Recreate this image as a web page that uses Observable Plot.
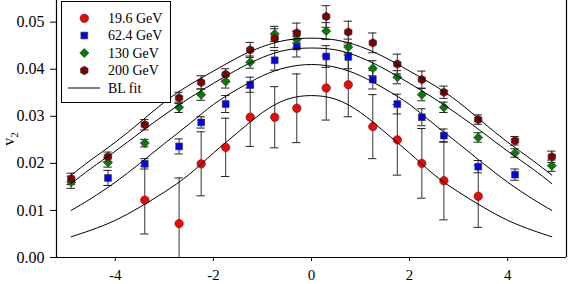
<!DOCTYPE html>
<html>
<head>
<meta charset="utf-8">
<script src="https://cdn.jsdelivr.net/npm/d3@7"></script>
<script src="https://cdn.jsdelivr.net/npm/@observablehq/plot@0.6"></script>
<style>
  html, body { margin: 0; padding: 0; background: #fff; }
  #chart { width: 575px; height: 284px; overflow: hidden; }
</style>
</head>
<body>
<div id="chart"></div>
<script>
// ---- data ----
const etaAll = [-4.9, -4.15, -3.4, -2.7, -2.25, -1.75, -1.25, -0.75, -0.3, 0.3, 0.75, 1.25, 1.75, 2.25, 2.7, 3.4, 4.15, 4.9];
const eta196 = [-3.4, -2.7, -2.25, -1.75, -1.25, -0.75, -0.3, 0.3, 0.75, 1.25, 1.75, 2.25, 2.7, 3.4];
const eta624 = [-4.15, -3.4, -2.7, -2.25, -1.75, -1.25, -0.75, -0.3, 0.3, 0.75, 1.25, 1.75, 2.25, 2.7, 3.4, 4.15];

const v2_196 = [0.0122, 0.0072, 0.0199, 0.0234, 0.0298, 0.0298, 0.0317, 0.0360, 0.0367, 0.0278, 0.0250, 0.0200, 0.0163, 0.0130];
const err196 = [0.0072, 0.0097, 0.0068, 0.0062, 0.0062, 0.0065, 0.0073, 0.0068, 0.0068, 0.0068, 0.0075, 0.0074, 0.0083, 0.0066];

const v2_624 = [0.0169, 0.0199, 0.0236, 0.0287, 0.0326, 0.0367, 0.0419, 0.0448, 0.0427, 0.0426, 0.0378, 0.0326, 0.0298, 0.0259, 0.0193, 0.0176];
const err624 = [0.0016, 0.0011, 0.0016, 0.0012, 0.0018, 0.0016, 0.0021, 0.0022, 0.0023, 0.0025, 0.0020, 0.0021, 0.0018, 0.0014, 0.0013, 0.0012];

const v2_130 = [0.0160, 0.0202, 0.0243, 0.0319, 0.0346, 0.0374, 0.0415, 0.0475, 0.0463, 0.0481, 0.0447, 0.0402, 0.0383, 0.0346, 0.0319, 0.0255, 0.0222, 0.0195];
const err130 = [0.0013, 0.0010, 0.0008, 0.0011, 0.0012, 0.0014, 0.0013, 0.0016, 0.0018, 0.0018, 0.0017, 0.0016, 0.0014, 0.0013, 0.0011, 0.0010, 0.0009, 0.0012];

const v2_200 = [0.0167, 0.0214, 0.0282, 0.0339, 0.0372, 0.0389, 0.0441, 0.0466, 0.0477, 0.0512, 0.0479, 0.0456, 0.0411, 0.0378, 0.0351, 0.0293, 0.0248, 0.0214];
const err200 = [0.0012, 0.0010, 0.0011, 0.0012, 0.0014, 0.0012, 0.0016, 0.0020, 0.0021, 0.0023, 0.0023, 0.0021, 0.0021, 0.0018, 0.0013, 0.0010, 0.0009, 0.0012];

// Blast-wave (BL) fit curves
const etaFit = [-4.9, -4.5, -4, -3.5, -3, -2.5, -2, -1.5, -1, -0.5, 0, 0.5, 1, 1.5, 2, 2.5, 3, 3.5, 4, 4.5, 4.9];
const fit196 = [0.0044, 0.0058, 0.0079, 0.0107, 0.0139, 0.0176, 0.0222, 0.0266, 0.0308, 0.0336, 0.0344, 0.0336, 0.0308, 0.0266, 0.0222, 0.0176, 0.0139, 0.0107, 0.0079, 0.0058, 0.0044];
const fit624 = [0.0100, 0.0125, 0.0160, 0.0200, 0.0242, 0.0283, 0.0325, 0.0358, 0.0386, 0.0404, 0.0410, 0.0404, 0.0386, 0.0358, 0.0325, 0.0283, 0.0242, 0.0200, 0.0160, 0.0125, 0.0100];
const fit130 = [0.0157, 0.0189, 0.0226, 0.0265, 0.0303, 0.0338, 0.0370, 0.0400, 0.0425, 0.0441, 0.0445, 0.0441, 0.0425, 0.0400, 0.0370, 0.0338, 0.0303, 0.0265, 0.0226, 0.0189, 0.0157];
const fit200 = [0.0175, 0.0207, 0.0245, 0.0287, 0.0330, 0.0366, 0.0396, 0.0425, 0.0448, 0.0462, 0.0466, 0.0462, 0.0448, 0.0425, 0.0396, 0.0366, 0.0330, 0.0287, 0.0245, 0.0207, 0.0175];

const seriesNames = ["19.6 GeV", "62.4 GeV", "130 GeV", "200 GeV"];
const xTicks = [-4, -2, 0, 2, 4];
const yTicks = [0, 0.01, 0.02, 0.03, 0.04, 0.05];
const xDomain = [-5.2, 5.2];
const yDomain = [0, 0.0546];

const FONT = "'Liberation Serif', 'Times New Roman', Times, serif";

// ---- styles ----
const hexagon = {
  draw(context, size) {
    const r = Math.sqrt(size / Math.PI);
    for (let k = 0; k < 6; ++k) {
      const a = Math.PI / 6 + k * Math.PI / 3;
      const px = r * Math.cos(a), py = r * Math.sin(a);
      if (k === 0) context.moveTo(px, py); else context.lineTo(px, py);
    }
    context.closePath();
  }
};
const styles = [
  {symbol: "circle", fill: "#ff0000", r: 4.2},
  {symbol: "square", fill: "#0000ff", r: 3.8},
  {symbol: "diamond2", fill: "#008000", r: 4.1},
  {symbol: hexagon, fill: "#800000", r: 4.3}
];

const seriesPts = [
  eta196.map((x, i) => ({x, v: v2_196[i], e: err196[i]})),
  eta624.map((x, i) => ({x, v: v2_624[i], e: err624[i]})),
  etaAll.map((x, i) => ({x, v: v2_130[i], e: err130[i]})),
  etaAll.map((x, i) => ({x, v: v2_200[i], e: err200[i]}))
];
const fits = [fit196, fit624, fit130, fit200];
const fitData = fits.flatMap((f, s) => etaFit.map((x, i) => ({x, y: f[i], s})));

const cap = 0.085;
const marks = [];
seriesPts.forEach((pts, i) => {
  marks.push(Plot.ruleX(pts, {x: "x", y1: d => d.v - d.e, y2: d => d.v + d.e, stroke: "#333", strokeWidth: 1, clip: true}));
  marks.push(Plot.ruleY(pts, {y: d => d.v + d.e, x1: d => d.x - cap, x2: d => d.x + cap, stroke: "#222", strokeWidth: 1, clip: true}));
  marks.push(Plot.ruleY(pts, {y: d => d.v - d.e, x1: d => d.x - cap, x2: d => d.x + cap, stroke: "#222", strokeWidth: 1, clip: true}));
});
seriesPts.forEach((pts, i) => {
  const st = styles[i];
  marks.push(Plot.dot(pts, {x: "x", y: "v", symbol: () => st.symbol, r: st.r, fill: st.fill, stroke: "#333", strokeWidth: 0.7}));
});
marks.push(Plot.line(fitData, {x: "x", y: "y", z: "s", curve: "natural", stroke: "#000", strokeWidth: 1}));
marks.push(Plot.ruleY([yDomain[0]], {stroke: "#000", strokeWidth: 1.2}));
marks.push(Plot.ruleX(xDomain, {stroke: "#000", strokeWidth: 1.2}));
marks.push(Plot.axisX({ticks: xTicks, tickSize: 4, tickPadding: 8, tickFormat: d => String(d), fontSize: 15, label: null}));
marks.push(Plot.axisY({ticks: yTicks, tickSize: 6, tickPadding: 6, tickFormat: d3.format(".2f"), fontSize: 16, label: null}));

const svg = Plot.plot({
  width: 575,
  height: 284,
  marginLeft: 56,
  marginRight: 9,
  marginTop: 0,
  marginBottom: 27,
  style: {fontSize: "15px", color: "#000", background: "#fff"},
  x: {domain: xDomain},
  y: {domain: yDomain},
  symbol: {type: "identity"},
  marks
});

// y-axis label v_2
const s = d3.select(svg);
const lab = s.append("text")
  .attr("transform", "translate(14,139) rotate(-90)")
  .attr("text-anchor", "middle")
  .attr("font-size", 16)
  .attr("fill", "#000");
lab.append("tspan").text("v");
lab.append("tspan").attr("font-size", 11).attr("dy", 4).text("2");

// legend box
const lg = s.append("g").attr("font-size", 14).attr("text-anchor", "start");
lg.append("rect").attr("x", 61.5).attr("y", 1.5).attr("width", 109).attr("height", 101)
  .attr("fill", "#fff").attr("stroke", "#000").attr("stroke-width", 1);
const rowY = [18.3, 35.5, 53, 70.5, 88];
seriesNames.forEach((name, i) => {
  const st = styles[i];
  const symType = typeof st.symbol === "string"
    ? {circle: d3.symbolCircle, square: d3.symbolSquare, diamond2: d3.symbolDiamond2}[st.symbol]
    : st.symbol;
  lg.append("path")
    .attr("transform", `translate(84.3,${rowY[i]})`)
    .attr("d", d3.symbol(symType, Math.PI * st.r * st.r)())
    .attr("fill", st.fill).attr("stroke", "#333").attr("stroke-width", 0.7);
  lg.append("text").attr("x", 108).attr("y", rowY[i]).attr("dy", "0.35em").attr("text-anchor", "start").text(name);
});
lg.append("line").attr("x1", 68).attr("x2", 100).attr("y1", rowY[4]).attr("y2", rowY[4]).attr("stroke", "#000");
lg.append("text").attr("x", 108).attr("y", rowY[4]).attr("dy", "0.35em").attr("text-anchor", "start").text("BL fit");

// serif font on every text element
s.style("font-family", FONT, "important");
s.selectAll("text").attr("font-family", FONT).style("font-family", FONT, "important");

document.getElementById("chart").appendChild(svg);
</script>
</body>
</html>
